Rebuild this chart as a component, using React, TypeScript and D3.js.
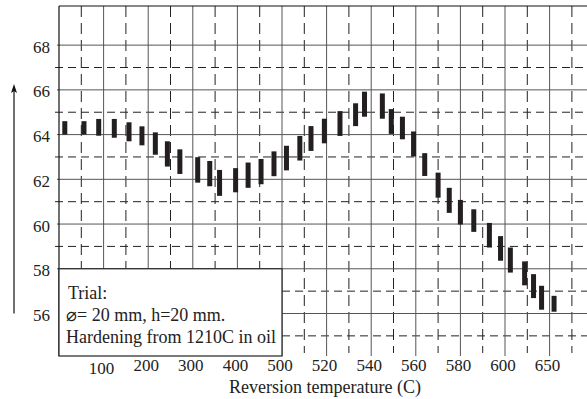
import { useEffect, useRef } from "react";
import * as d3 from "d3";

// axis values (temperature axis is not linear, each label gets the same width)
const tickTemps = [100, 200, 300, 400, 500, 520, 540, 560, 580, 600, 650];
const axisTemps = [0, ...tickTemps, 700];
const hardnessTicks = [56, 58, 60, 62, 64, 66, 68];
const halfTicks = [55, 57, 59, 61, 63, 65, 67];

// hardness ranges
const barTemps = [13, 56, 89, 124, 157, 186, 216, 243, 271, 311, 338, 360, 396, 424, 453, 482,
    502, 508, 513, 519, 526, 533, 537, 545, 549, 554, 559, 564, 570, 575, 580, 586, 593, 598,
    606, 622, 632, 641, 655];
const barLow = [64.0, 64.0, 63.95, 63.86, 63.7, 63.52, 63.1, 62.57, 62.24, 61.85, 61.69, 61.26,
    61.42, 61.62, 61.78, 62.14, 62.4, 62.84, 63.27, 63.61, 63.94, 64.38, 64.8, 64.71, 64.03, 63.79,
    63.02, 62.15, 61.18, 60.5, 59.98, 59.65, 58.95, 58.36, 57.83, 57.26, 56.69, 56.17, 56.08];
const barHigh = [64.6, 64.6, 64.7, 64.7, 64.55, 64.37, 64.1, 63.7, 63.34, 62.99, 62.82, 62.42,
    62.5, 62.75, 62.91, 63.25, 63.5, 63.94, 64.38, 64.71, 65.05, 65.4, 65.92, 65.84, 65.14, 64.8,
    64.14, 63.17, 62.3, 61.62, 61.08, 60.66, 60.05, 59.46, 58.95, 58.33, 57.76, 57.24, 56.79];

const trialLines = ["Trial:", "\u2300= 20 mm, h=20 mm.", "Hardening from 1210C in oil"];
const xTitle = "Reversion temperature (C)";

const W = 587;
const H = 399;

const HardnessChart = () => {
    const svgRef = useRef<SVGSVGElement>(null);

    useEffect(() => {
        if (!svgRef.current) return;
        const svg = d3.select(svgRef.current);
        svg.selectAll("*").remove();

        const left = 59, top = 6, bottom = 356, step = 44.6;
        const font = "'Liberation Serif', 'Times New Roman', serif";

        const x = d3.scaleLinear()
            .domain(axisTemps)
            .range(axisTemps.map((_, i) => left + i * step));
        const y = d3.scaleLinear()
            .domain([54.1, 69.75])
            .range([bottom, top]);

        const boxRight = x(500);
        const boxTop = y(58);

        const grid = svg.append("g");
        const midX = axisTemps.slice(1).map((t, i) => (x(t) + x(axisTemps[i])) / 2);

        // dashed verticals
        grid.selectAll(".vd").data(midX).enter().append("line")
            .attr("x1", d => d).attr("x2", d => d)
            .attr("y1", top).attr("y2", bottom - 3)
            .attr("stroke", "#222").attr("stroke-width", 1)
            .attr("stroke-dasharray", "11,6");

        // dashed horizontals
        grid.selectAll(".hd").data(halfTicks).enter().append("line")
            .attr("x1", d => d < 58 ? boxRight : left - 4).attr("x2", W)
            .attr("y1", d => y(d)).attr("y2", d => y(d))
            .attr("stroke", "#222").attr("stroke-width", 1)
            .attr("stroke-dasharray", "8,5");

        // solid verticals
        grid.selectAll(".vs").data(tickTemps).enter().append("line")
            .attr("x1", d => x(d)).attr("x2", d => x(d))
            .attr("y1", top).attr("y2", bottom)
            .attr("stroke", "#555").attr("stroke-width", 1);

        // solid horizontals
        grid.selectAll(".hs").data(hardnessTicks).enter().append("line")
            .attr("x1", d => d < 58 ? boxRight : left - 2).attr("x2", W)
            .attr("y1", d => y(d)).attr("y2", d => y(d))
            .attr("stroke", "#555").attr("stroke-width", 1);

        // frame
        svg.append("line").attr("x1", left).attr("x2", W).attr("y1", top).attr("y2", top)
            .attr("stroke", "#111").attr("stroke-width", 1.2);
        svg.append("line").attr("x1", left).attr("x2", left).attr("y1", top).attr("y2", bottom)
            .attr("stroke", "#111").attr("stroke-width", 1.2);

        // trial box
        svg.append("rect")
            .attr("x", left).attr("y", boxTop)
            .attr("width", boxRight - left).attr("height", bottom - boxTop)
            .attr("fill", "#fff").attr("stroke", "#222").attr("stroke-width", 1.2);
        svg.selectAll(".trial").data(trialLines).enter().append("text")
            .attr("x", (d, i) => i === 0 ? left + 9 : left + 7)
            .attr("y", (d, i) => boxTop + 30 + i * 22)
            .attr("font-family", font).attr("font-size", 18).attr("fill", "#222")
            .text(d => d);

        // bars
        svg.selectAll(".bar").data(barTemps).enter().append("rect")
            .attr("x", d => x(d) - 2.5)
            .attr("y", (d, i) => y(barHigh[i]))
            .attr("width", 5)
            .attr("height", (d, i) => y(barLow[i]) - y(barHigh[i]))
            .attr("fill", "#231f20");

        // y labels
        svg.selectAll(".yl").data(hardnessTicks).enter().append("text")
            .attr("x", 50).attr("y", d => y(d) + 2)
            .attr("text-anchor", "end").attr("dominant-baseline", "central")
            .attr("font-family", font).attr("font-size", 17).attr("fill", "#222")
            .text(d => d);

        // x labels
        svg.selectAll(".xl").data(tickTemps).enter().append("text")
            .attr("x", d => x(d) - 2).attr("y", d => d === 100 ? 374 : 371)
            .attr("text-anchor", "middle")
            .attr("font-family", font).attr("font-size", 17).attr("fill", "#222")
            .text(d => d);

        svg.append("text")
            .attr("x", 325).attr("y", 393)
            .attr("text-anchor", "middle")
            .attr("font-family", font).attr("font-size", 18).attr("fill", "#222")
            .text(xTitle);

        // arrow along the hardness axis
        svg.append("line").attr("x1", 14).attr("x2", 14).attr("y1", 90).attr("y2", y(56))
            .attr("stroke", "#111").attr("stroke-width", 1.2);
        svg.append("path")
            .attr("d", "M14,84 L11,93 L14,91 L17,93 Z")
            .attr("fill", "#111");

        svg.attr("width", W).attr("height", H)
            .attr("viewBox", `0 0 ${W} ${H}`);
    }, []);

    return <svg ref={svgRef} style={{ display: "block" }} />;
};

export default function App() {
    return (
        <div>
            <style>{`body{margin:0;background:#fff}`}</style>
            <HardnessChart />
        </div>
    );
}
